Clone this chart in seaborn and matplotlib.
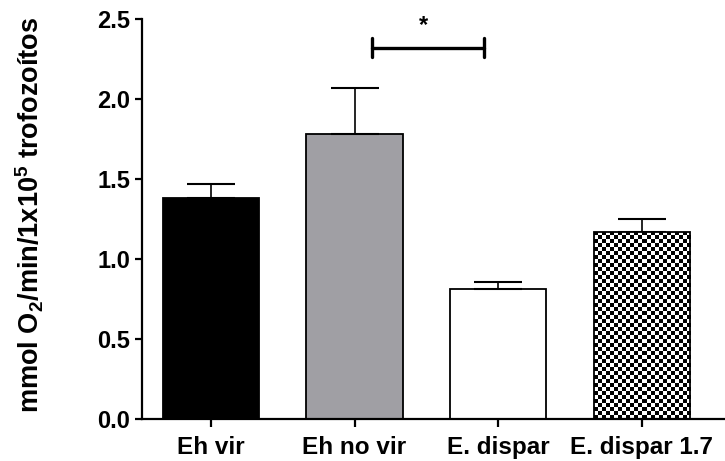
import numpy as np
import pandas as pd
import matplotlib
matplotlib.use("Agg")
import matplotlib.pyplot as plt
import seaborn as sns

groups = ["Eh vir", "Eh no vir", "E. dispar", "E. dispar 1.7"]
means = [1.38, 1.78, 0.81, 1.17]
sem = [0.09, 0.29, 0.045, 0.08]
bar_colors = ["#000000", "#A09FA4", "#FFFFFF", "#FFFFFF"]
yticks = [0.0, 0.5, 1.0, 1.5, 2.0, 2.5]
sig_pair = (1.12, 1.90)
sig_y = 2.32

sns.set_style("ticks")
plt.rcParams["font.family"] = ["Liberation Sans", "DejaVu Sans"]
plt.rcParams["font.weight"] = "bold"
plt.rcParams["mathtext.fontset"] = "custom"
plt.rcParams["mathtext.rm"] = "Liberation Sans:bold"
plt.rcParams["mathtext.default"] = "rm"
for key in ["text.color", "axes.labelcolor", "xtick.color", "ytick.color", "axes.edgecolor"]:
    plt.rcParams[key] = "black"

df = pd.DataFrame({"group": groups, "value": means})

fig = plt.figure(figsize=(7.25, 4.61), dpi=100)
ax = fig.add_axes([142 / 725, 42 / 461, 583 / 725, 400 / 461])

sns.barplot(data=df, x="group", y="value", hue="group", palette=bar_colors,
            width=0.67, edgecolor="black", linewidth=1.3, legend=False,
            errorbar=None, ax=ax, saturation=1)

# upper-only error bars
ax.errorbar(np.arange(len(groups)), means, yerr=[[0] * len(sem), sem],
            fmt="none", ecolor="black", elinewidth=1.2, capsize=17, capthick=1.5,
            zorder=1)

# checkerboard fill for the last bar, clipped to its patch
patch = ax.patches[3]
x0, y0 = patch.get_x(), patch.get_y()
w, h = patch.get_width(), patch.get_height()
nx = 24
ny = 47
checker = (np.add.outer(np.arange(ny), np.arange(nx)) % 2).astype(float)
img = ax.imshow(checker, cmap="gray", extent=[x0, x0 + w, y0, y0 + h],
                aspect="auto", interpolation="nearest", zorder=patch.get_zorder() + 0.1)
img.set_clip_path(patch)
patch.set_facecolor("none")
patch.set_zorder(patch.get_zorder() + 0.2)

# significance bracket
ax.plot([sig_pair[0], sig_pair[1]], [sig_y, sig_y], color="black", lw=2.4, clip_on=False)
for xb in sig_pair:
    ax.plot([xb, xb], [sig_y - 0.06, sig_y + 0.06], color="black", lw=2.4, clip_on=False)
ax.text(np.mean(sig_pair) - 0.03, sig_y + 0.07, "*", ha="center", va="bottom",
        fontsize=17, fontweight="bold")

ax.set_xlim(-0.48, 3.58)
ax.set_ylim(0, 2.5)
ax.set_yticks(yticks)
ax.set_yticklabels([f"{t:.1f}" for t in yticks])
ax.set_xlabel("")
ax.set_ylabel(r"mmol O$_2$/min/1x10$^5$ trofozoítos", fontsize=19.5, fontweight="bold")
ax.yaxis.set_label_coords(-0.165, 0.51)

sns.despine(ax=ax)
for s in ["left", "bottom"]:
    ax.spines[s].set_linewidth(1.6)
ax.tick_params(axis="both", direction="out", width=1.6, length=5, labelsize=17)
ax.tick_params(axis="x", length=6, pad=6, labelsize=17.5)
for lbl in ax.get_xticklabels() + ax.get_yticklabels():
    lbl.set_fontweight("bold")

fig.savefig("out.png", dpi=100)
